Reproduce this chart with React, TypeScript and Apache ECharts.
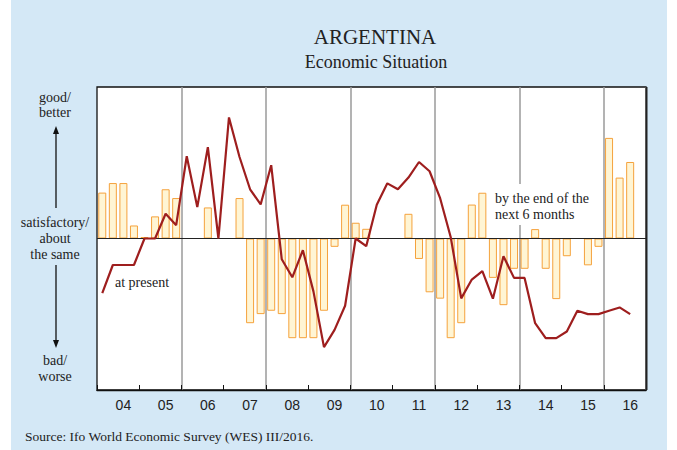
import React, { useEffect, useRef } from "react";
import * as echarts from "echarts";

const years = ["04", "05", "06", "07", "08", "09", "10", "11", "12", "13", "14", "15", "16"];
const quarters = years.flatMap((y) => ["Q1", "Q2", "Q3", "Q4"].map((q) => y + q));

// Expectations: by the end of the next 6 months (bars)
const nextSixMonths = [
  30.3, 36.6, 36.6, 8.6,
  1, 14.6, 32.5, 26.7,
  0, 0, 20.5, 0,
  0, 26.7, -55.9, -49.9,
  -47.7, -49.9, -65.8, -65.8,
  -65.8, -47.7, -5.5, 22.3,
  10.4, 6.4, 0, 0,
  0, 16.3, -13.5, -35.5,
  -39.7, -65.8, -55.9, 22.4,
  30.2, -26, -44, -20,
  -20, 6.2, -20, -40,
  -11.7, 0, -17.7, -5.5,
  66.4, 40.2, 50.5,
];

// Present situation (line)
const atPresent = [
  -36, -17.5, -17.5, -17.5,
  0, 0, 16.3, 8.8,
  54.3, 20.7, 60.3, 0,
  79.9, 53.8, 32.5, 22.5,
  48.4, -13.7, -25.6, -7.7,
  -34.9, -71.7, -60.3, -44.4,
  0, -5.1, 22.3, 36.4,
  32.5, 40.2, 50.5, 44.4,
  26.6, 1, -39.5, -27.1,
  -21.6, -39.7, -11.7, -26,
  -26, -55.9, -65.8, -65.8,
  -61.4, -47.7, -49.9, -49.9,
  -47.7, -45.5, -49.9,
];

const titleText = "ARGENTINA";
const subtitleText = "Economic Situation";
const sourceText = "Source: Ifo World Economic Survey (WES) III/2016.";

export default function App() {
  const ref = useRef<HTMLDivElement>(null);

  useEffect(() => {
    document.body.style.margin = "0";
    const chart = echarts.init(ref.current!, null, { renderer: "svg" });
    const serif = "'Liberation Serif', 'Times New Roman', serif";
    const textColor = "#222";

    const serifText = (text: string, x: number, y: number, size: number, align = "center") => ({
      type: "text",
      x,
      y,
      z: 50,
      style: {
        text,
        fill: textColor,
        fontFamily: serif,
        fontSize: size,
        textAlign: align,
        textVerticalAlign: "middle",
      },
    });

    chart.setOption({
      animation: false,
      backgroundColor: "#D4E8F6",
      grid: {
        left: 97,
        right: 31,
        top: 87,
        bottom: 60,
        show: true,
        backgroundColor: "#ffffff",
        borderColor: "#111",
        borderWidth: 1.3,
      },
      xAxis: {
        type: "category",
        data: quarters,
        boundaryGap: true,
        axisLine: { show: true, onZero: false, lineStyle: { color: "#111", width: 1.3 } },
        axisTick: {
          show: true,
          inside: true,
          length: 5,
          interval: (i: number) => i % 4 === 0,
          lineStyle: { color: "#111", width: 1 },
        },
        axisLabel: {
          interval: (i: number) => i % 4 === 2,
          formatter: (v: string) => v.slice(0, 2),
          color: textColor,
          fontFamily: "'Liberation Sans', Arial, sans-serif",
          fontSize: 14,
          margin: 8,
        },
        splitLine: {
          show: true,
          interval: (i: number) => i % 8 === 0 && i > 0,
          lineStyle: { color: "#9a9a9a", width: 1.5 },
        },
      },
      yAxis: {
        type: "value",
        min: -100,
        max: 100,
        show: false,
        splitLine: { show: false },
      },
      series: [
        {
          type: "bar",
          name: "by the end of the next 6 months",
          data: nextSixMonths,
          barWidth: 8,
          itemStyle: { color: "#FFF5D4", borderColor: "#F5A23C", borderWidth: 1 },
          markLine: {
            silent: true,
            symbol: "none",
            label: { show: false },
            lineStyle: { color: "#222", width: 1.2, type: "solid" },
            data: [{ yAxis: 0 }],
          },
          z: 2,
        },
        {
          type: "line",
          name: "at present",
          data: atPresent,
          symbol: "none",
          lineStyle: { color: "#9E1E1E", width: 2.2 },
          itemStyle: { color: "#9E1E1E" },
          z: 5,
        },
      ],
      graphic: [
        { type: "rect", shape: { x: 0, y: 0, width: 11, height: 450 }, style: { fill: "#ffffff" }, z: -10 },
        { type: "rect", shape: { x: 667, y: 0, width: 10, height: 450 }, style: { fill: "#ffffff" }, z: -10 },
        { type: "line", shape: { x1: 646.5, y1: 87, x2: 646.5, y2: 390 }, style: { stroke: "#222", lineWidth: 2 }, z: 50 },
        serifText(titleText, 375, 37, 21),
        serifText(subtitleText, 376, 62, 18),
        serifText("good/", 55, 97, 14),
        serifText("better", 55, 112, 14),
        serifText("satisfactory/", 55, 222, 14),
        serifText("about", 55, 238, 14),
        serifText("the same", 55, 254, 14),
        serifText("bad/", 55, 360, 14),
        serifText("worse", 55, 376, 14),
        { type: "line", shape: { x1: 56, y1: 132, x2: 56, y2: 208 }, style: { stroke: "#111", lineWidth: 1.3 }, z: 50 },
        { type: "polygon", shape: { points: [[53, 134], [59, 134], [56, 126]] }, style: { fill: "#111" }, z: 50 },
        { type: "line", shape: { x1: 56, y1: 265, x2: 56, y2: 342 }, style: { stroke: "#111", lineWidth: 1.3 }, z: 50 },
        { type: "polygon", shape: { points: [[53, 340], [59, 340], [56, 348]] }, style: { fill: "#111" }, z: 50 },
        serifText("at present", 115, 282, 14, "left"),
        { type: "rect", shape: { x: 489, y: 184, width: 108, height: 41 }, style: { fill: "#ffffff" }, z: 40 },
        serifText("by the end of the", 495, 198, 14, "left"),
        serifText("next 6 months", 495, 214, 14, "left"),
        serifText(sourceText, 25, 436, 13.5, "left"),
      ],
    });

    return () => chart.dispose();
  }, []);

  return <div ref={ref} style={{ width: 677, height: 450 }} />;
}
